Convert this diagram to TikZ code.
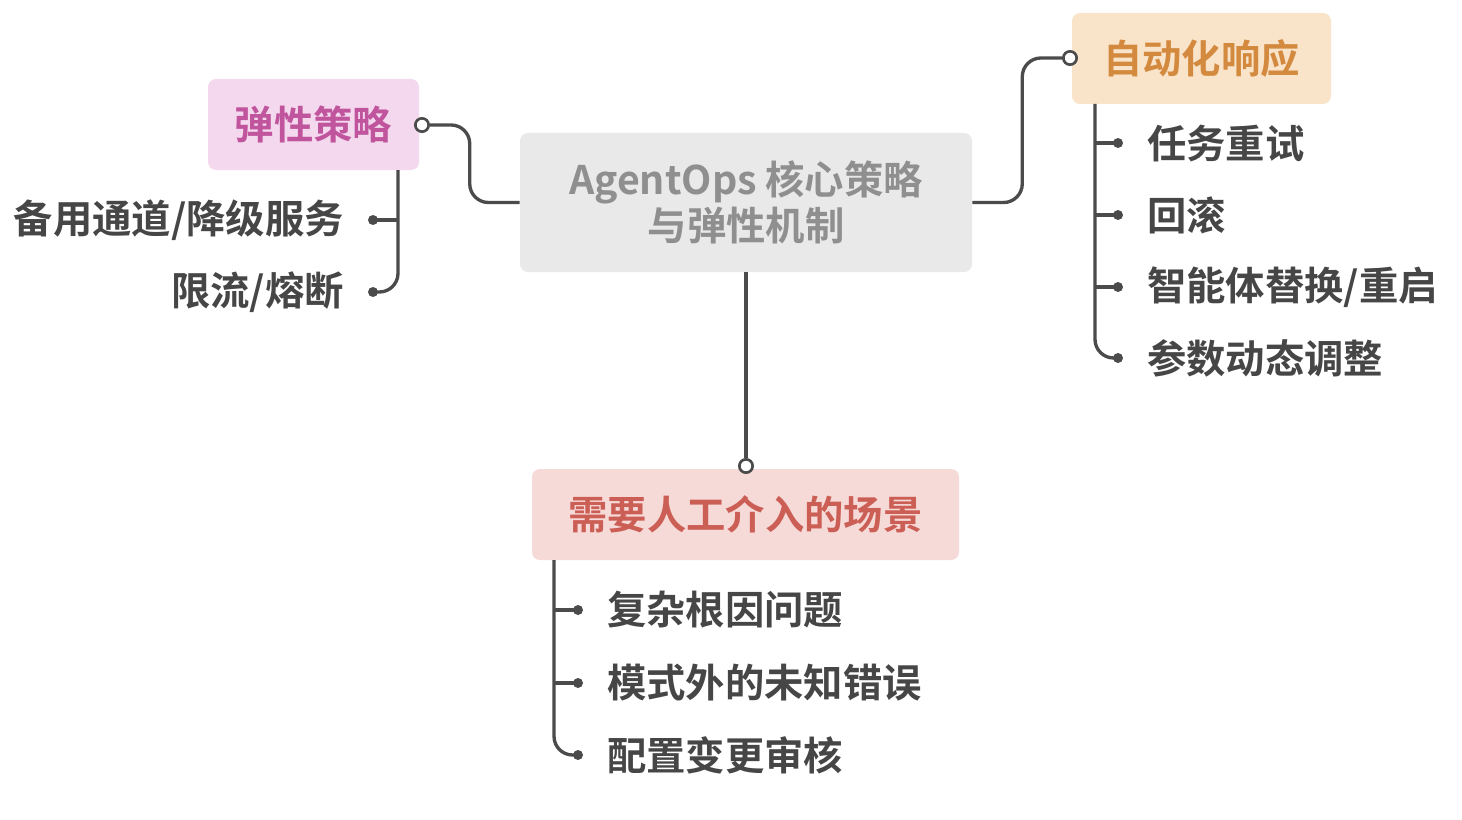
\documentclass[tikz,border=0pt]{standalone}
\usepackage{fontspec}
\setmainfont{Noto Sans CJK SC}[BoldFont={Noto Sans CJK SC Bold}]
\definecolor{linec}{HTML}{4B4B4B}
\definecolor{txtc}{HTML}{464646}
\definecolor{cfill}{HTML}{E9E9E9}
\definecolor{ctext}{HTML}{8F8F8F}
\definecolor{lfill}{HTML}{F3D8EE}
\definecolor{ltext}{HTML}{C0559E}
\definecolor{rfill}{HTML}{F9E3C9}
\definecolor{rtext}{HTML}{D38A3E}
\definecolor{bfill}{HTML}{F6DAD8}
\definecolor{btext}{HTML}{CC5F55}
\tikzset{
  box/.style={rounded corners=6pt, inner sep=0pt, align=center,
    font=\fontsize{29.5}{34.5}\selectfont\bfseries},
  topic/.style={box, minimum height=68.25pt},
  leaf/.style={inner sep=0pt, text=txtc, font=\fontsize{29.5}{34.5}\selectfont\bfseries},
  conn/.style={draw=linec, line width=2.5pt, rounded corners=14pt},
  hollow/.style={circle, draw=linec, fill=white, line width=2pt, minimum size=10pt, inner sep=0pt},
  dotc/.style={circle, fill=linec, minimum size=7.5pt, inner sep=0pt},
}
\begin{document}
\begin{tikzpicture}[x=0.75pt,y=-0.75pt]
\useasboundingbox (0,0) rectangle (1462,820);
% main topics
\node[box, fill=cfill, text=ctext, minimum width=339pt, minimum height=104.25pt] (core) at (746,202.5) {AgentOps 核心策略\\与弹性机制};
\node[topic, fill=lfill, text=ltext, minimum width=158.25pt] (res) at (313.5,124.5) {弹性策略};
\node[topic, fill=rfill, text=rtext, minimum width=194.25pt] (auto) at (1201.5,58.5) {自动化响应};
\node[topic, fill=bfill, text=btext, minimum width=320.25pt] (hum) at (745.5,514.5) {需要人工介入的场景};
% junction circles
\node[hollow] (lc) at (422,125) {};
\node[hollow] (rc) at (1070,58) {};
\node[hollow] (bc) at (746,466) {};
% main connectors
\draw[conn] (core.west) -- ++(-50,0) |- (lc.east);
\draw[conn] (core.east) -- ++(50,0) |- (rc.west);
\draw[conn] (core.south) -- (bc.north);
% left children
\coordinate (ls) at (398,170);
\node[dotc] (l1) at (373,220) {};
\node[dotc] (l2) at (373,292) {};
\node[leaf, anchor=east] (lt1) at (344,220) {备用通道/降级服务};
\node[leaf, anchor=east] (lt2) at (344,292) {限流/熔断};
\draw[conn] (ls) |- (l2.center);
\draw[conn] (l1.center) -- (l1 -| ls);
% right children
\coordinate (rs) at (1095,104);
\node[dotc] (r1) at (1118,143) {};
\node[dotc] (r2) at (1118,215) {};
\node[dotc] (r3) at (1118,287) {};
\node[dotc] (r4) at (1118,358) {};
\node[leaf, anchor=west] (rt1) at (1147,143) {任务重试};
\node[leaf, anchor=west] (rt2) at (1147,215) {回滚};
\node[leaf, anchor=west] (rt3) at (1147,287) {智能体替换/重启};
\node[leaf, anchor=west] (rt4) at (1147,358) {参数动态调整};
\draw[conn] (rs) |- (r4.center);
\draw[conn] (r1.center) -- (r1 -| rs);
\draw[conn] (r2.center) -- (r2 -| rs);
\draw[conn] (r3.center) -- (r3 -| rs);
% bottom children
\coordinate (bs) at (554,560);
\node[dotc] (b1) at (578,610) {};
\node[dotc] (b2) at (578,683) {};
\node[dotc] (b3) at (578,755) {};
\node[leaf, anchor=west] (bt1) at (607,610) {复杂根因问题};
\node[leaf, anchor=west] (bt2) at (607,683) {模式外的未知错误};
\node[leaf, anchor=west] (bt3) at (607,755) {配置变更审核};
\draw[conn] (bs) |- (b3.center);
\draw[conn] (b1.center) -- (b1 -| bs);
\draw[conn] (b2.center) -- (b2 -| bs);
\end{tikzpicture}
\end{document}
